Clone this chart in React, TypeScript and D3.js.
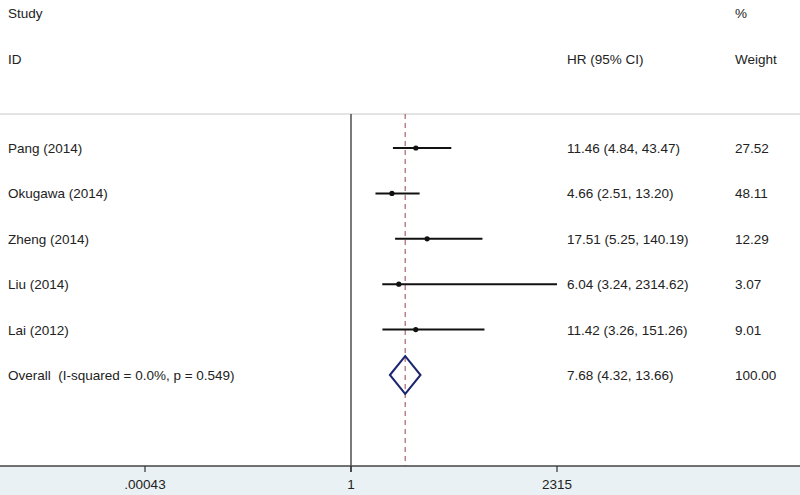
import React from 'react';
import * as d3 from 'd3';

const studies = ['Pang (2014)', 'Okugawa (2014)', 'Zheng (2014)', 'Liu (2014)', 'Lai (2012)'];
const hr = [11.46, 4.66, 17.51, 6.04, 11.42];
const lower = [4.84, 2.51, 5.25, 3.24, 3.26];
const upper = [43.47, 13.2, 140.19, 2314.62, 151.26];
const weights = ['27.52', '48.11', '12.29', '3.07', '9.01'];

const overallLabel = 'Overall  (I-squared = 0.0%, p = 0.549)';
const overall = { hr: 7.68, lower: 4.32, upper: 13.66, weight: '100.00' };

const tickValues = [1 / 2315, 1, 2315];
const tickLabels = ['.00043', '1', '2315'];

const W = 800;
const H = 495;
const FONT = 'Liberation Sans, Arial, sans-serif';

const App: React.FC = () => {
  const x = d3.scaleLog().domain([1 / 2315, 2315]).range([145, 557]);
  const rows = [...studies, overallLabel];
  const y = d3.scalePoint<string>().domain(rows).range([148, 375]);

  const topLine = 114;
  const axisY = 466;
  const fmt = (v: number) => v.toFixed(2);

  const diamond = (() => {
    const cy = y(overallLabel)!;
    const h = 19;
    return [
      [x(overall.lower), cy],
      [x(overall.hr), cy - h],
      [x(overall.upper), cy],
      [x(overall.hr), cy + h],
    ];
  })();

  const textProps = {
    fontFamily: FONT,
    fontSize: 13.5,
    fill: '#222',
    style: { whiteSpace: 'pre' as const },
  };

  return (
    <svg width={W} height={H} style={{ position: 'absolute', left: 0, top: 0 }}>
      <rect x={0} y={0} width={W} height={H} fill="#fff" />
      <rect x={0} y={axisY} width={W} height={H - axisY} fill="#e9f1f4" />

      {/* header */}
      <text x={8} y={18} {...textProps}>Study</text>
      <text x={8} y={64} {...textProps}>ID</text>
      <text x={567} y={64} {...textProps}>HR (95% CI)</text>
      <text x={735} y={18} {...textProps}>%</text>
      <text x={735} y={64} {...textProps}>Weight</text>

      <line x1={0} x2={W} y1={topLine} y2={topLine} stroke="#c8c8c8" strokeWidth={1} />

      {/* null line */}
      <line x1={x(1)} x2={x(1)} y1={topLine} y2={axisY + 6} stroke="#333" strokeWidth={1.3} />
      {/* overall effect line */}
      <line
        x1={x(overall.hr)}
        x2={x(overall.hr)}
        y1={topLine}
        y2={axisY}
        stroke="#b07078"
        strokeWidth={1.3}
        strokeDasharray="5,4"
      />

      {studies.map((s, i) => {
        const cy = y(s)!;
        return (
          <g key={s}>
            <text x={8} y={cy + 5} {...textProps}>{s}</text>
            <line x1={x(lower[i])} x2={x(upper[i])} y1={cy} y2={cy} stroke="#111" strokeWidth={2} />
            <circle cx={x(hr[i])} cy={cy} r={2.6} fill="#111" />
            <text x={567} y={cy + 5} {...textProps}>
              {`${fmt(hr[i])} (${fmt(lower[i])}, ${fmt(upper[i])})`}
            </text>
            <text x={735} y={cy + 5} {...textProps}>{weights[i]}</text>
          </g>
        );
      })}

      <text x={8} y={y(overallLabel)! + 5} {...textProps}>{overallLabel}</text>
      <polygon
        points={diamond.map((p) => p.join(',')).join(' ')}
        fill="none"
        stroke="#1c2670"
        strokeWidth={2}
      />
      <text x={567} y={y(overallLabel)! + 5} {...textProps}>
        {`${fmt(overall.hr)} (${fmt(overall.lower)}, ${fmt(overall.upper)})`}
      </text>
      <text x={735} y={y(overallLabel)! + 5} {...textProps}>{overall.weight}</text>

      {/* axis */}
      <line x1={0} x2={W} y1={axisY} y2={axisY} stroke="#444" strokeWidth={1.3} />
      {tickValues.map((t, i) => (
        <g key={i}>
          <line x1={x(t)} x2={x(t)} y1={axisY} y2={axisY + 6} stroke="#333" strokeWidth={1.2} />
          <text x={x(t)} y={489} textAnchor="middle" {...textProps}>{tickLabels[i]}</text>
        </g>
      ))}
    </svg>
  );
};

export default App;
